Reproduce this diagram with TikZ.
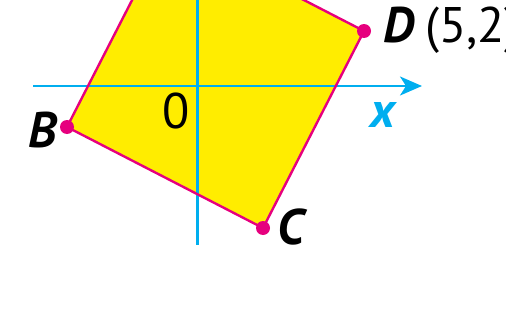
\documentclass[tikz,border=0pt]{standalone}
\usepackage{fontspec}
\setmainfont{PT Sans}
\usetikzlibrary{arrows.meta}
\definecolor{figyellow}{HTML}{FFED00}
\definecolor{figmagenta}{HTML}{E6007E}
\definecolor{figcyan}{HTML}{00AEEF}
\tikzset{
  axis/.style={figcyan, line width=2.2pt},
  side/.style={figmagenta, line width=2.4pt},
  vertex/.style={circle, fill=figmagenta, inner sep=0pt, minimum size=14pt},
  ptlabel/.style={font=\fontsize{50}{50}\selectfont\bfseries\itshape, inner sep=0pt, anchor=base west},
  numlabel/.style={font=\fontsize{50}{50}\selectfont, inner sep=0pt, anchor=base west},
}
\begin{document}
\begin{tikzpicture}[x=1pt,y=-1pt]
    \useasboundingbox (0,0) rectangle (506,332);
    % vertices of the square
    \coordinate (A) at (168,-70);
    \coordinate (B) at (67,127);
    \coordinate (C) at (263,228);
    \coordinate (D) at (364,31);
    \fill[figyellow] (A) -- (D) -- (C) -- (B) -- cycle;
    % axes
    \coordinate (xstart) at (33,86);
    \coordinate (xend) at (422,86);
    \coordinate (ystart) at (197.5,-5);
    \coordinate (yend) at (197.5,245);
    \draw[axis, -{Stealth[length=22pt,width=19pt,inset=6pt]}] (xstart) -- (xend);
    \draw[axis] (ystart) -- (yend);
    \draw[side] (A) -- (D) -- (C) -- (B) -- cycle;
    \node[vertex] (dotB) at (B) {};
    \node[vertex] (dotC) at (C) {};
    \node[vertex] (dotD) at (D) {};
    % labels
    \node[ptlabel] (labD) at (383,42) {D};
    \node[numlabel] (coordD) at (425,42) {(5,2)};
    \node[ptlabel] (labB) at (28,147) {B};
    \node[ptlabel] (labC) at (277,244) {C};
    \node[numlabel] (origin) at (162,128) {0};
    \node[ptlabel, figcyan] (labx) at (370,127) {x};
\end{tikzpicture}
\end{document}
